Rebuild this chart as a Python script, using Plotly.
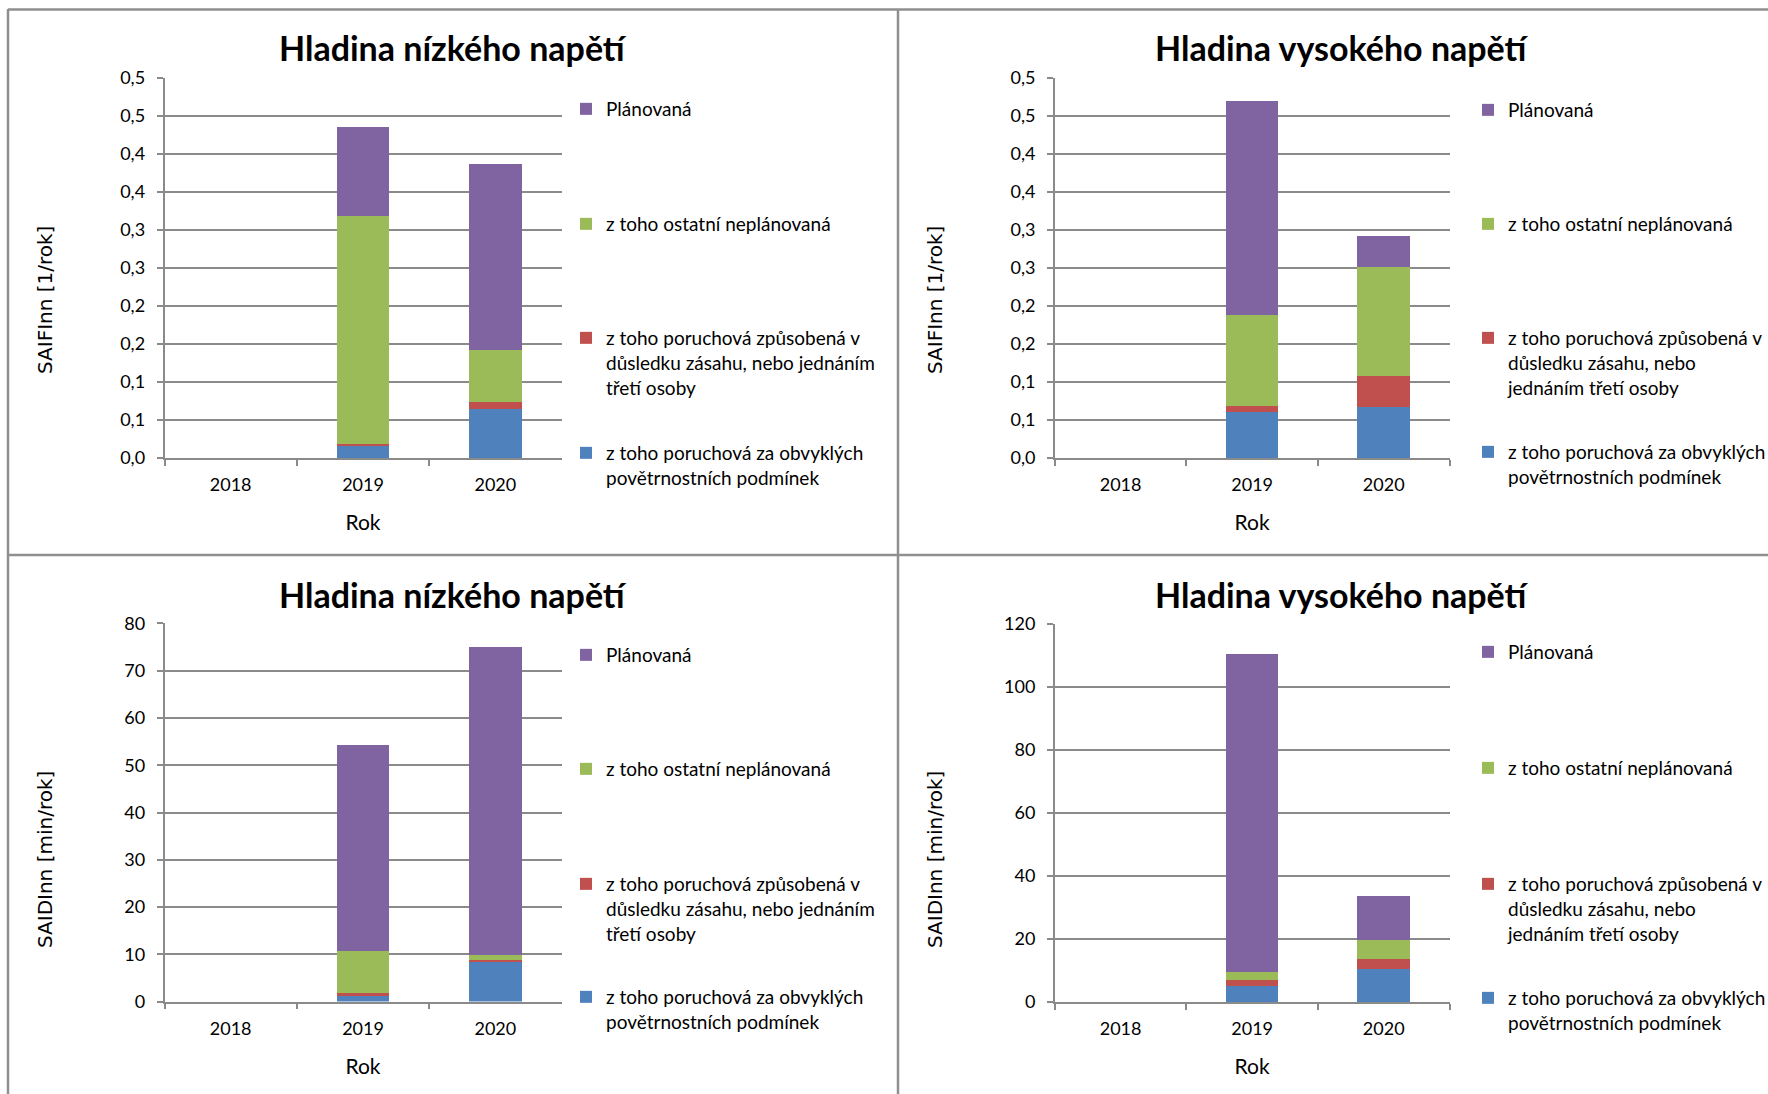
import plotly.graph_objects as go

W, H = 1768, 1094

years = ["2018", "2019", "2020"]

series_names = [
    "z toho poruchová za obvyklých<br>povětrnostních podmínek",
    "z toho poruchová způsobená v<br>důsledku zásahu, nebo jednáním<br>třetí osoby",
    "z toho ostatní neplánovaná",
    "Plánovaná",
]
series_names_right = [
    "z toho poruchová za obvyklých<br>povětrnostních podmínek",
    "z toho poruchová způsobená v<br>důsledku zásahu, nebo<br>jednáním třetí osoby",
    "z toho ostatní neplánovaná",
    "Plánovaná",
]
colors = ["#4F81BD", "#C0504D", "#9BBB59", "#8064A2"]

# SAIFI nn - low voltage
saifi_nn_blue = [None, 0.017, 0.065]
saifi_nn_red = [None, 0.002, 0.009]
saifi_nn_green = [None, 0.299, 0.068]
saifi_nn_purple = [None, 0.118, 0.245]

# SAIFI nn - high voltage
saifi_vn_blue = [None, 0.060, 0.067]
saifi_vn_red = [None, 0.008, 0.041]
saifi_vn_green = [None, 0.120, 0.143]
saifi_vn_purple = [None, 0.282, 0.041]

# SAIDI nn - low voltage
saidi_nn_blue = [None, 1.25, 8.4]
saidi_nn_red = [None, 0.65, 0.45]
saidi_nn_green = [None, 8.85, 1.1]
saidi_nn_purple = [None, 43.6, 65.0]

# SAIDI nn - high voltage
saidi_vn_blue = [None, 5.0, 10.5]
saidi_vn_red = [None, 2.1, 3.0]
saidi_vn_green = [None, 2.55, 6.1]
saidi_vn_purple = [None, 100.7, 14.2]

saifi_tickvals = [0, 0.05, 0.1, 0.15, 0.2, 0.25, 0.3, 0.35, 0.4, 0.45, 0.5]
saifi_ticktext = ["0,0", "0,1", "0,1", "0,2", "0,2", "0,3", "0,3", "0,4", "0,4", "0,5", "0,5"]

titles = ["Hladina nízkého napětí", "Hladina vysokého napětí",
          "Hladina nízkého napětí", "Hladina vysokého napětí"]
ytitles = ["SAIFInn [1/rok]", "SAIFInn [1/rok]", "SAIDInn [min/rok]", "SAIDInn [min/rok]"]
xtitle = "Rok"

panels = [
    dict(data=[saifi_nn_blue, saifi_nn_red, saifi_nn_green, saifi_nn_purple], names=series_names),
    dict(data=[saifi_vn_blue, saifi_vn_red, saifi_vn_green, saifi_vn_purple], names=series_names_right),
    dict(data=[saidi_nn_blue, saidi_nn_red, saidi_nn_green, saidi_nn_purple], names=series_names),
    dict(data=[saidi_vn_blue, saidi_vn_red, saidi_vn_green, saidi_vn_purple], names=series_names_right),
]

# layout geometry in pixels
plot_boxes = [  # x0, x1, ytop, ybottom
    (164.5, 561.5, 78, 458),
    (1054.8, 1449.5, 78, 458),
    (164.5, 561.5, 623.4, 1001.6),
    (1054.8, 1449.5, 624.1, 1002),
]
title_pos = [(453, 48), (1342, 48), (453, 594), (1342, 594)]
ytitle_pos = [(45, 300), (935, 300), (45, 860), (935, 860)]
legend_text_x = [607, 1509, 607, 1509]
legend_line_y = [
    [453, 338, 224, 109],
    [452, 338, 224, 110],
    [997, 884, 769, 655],
    [998, 884, 768, 652],
]

px = lambda x: x / W
py = lambda y: 1 - y / H

GRID = "#8A8A8A"
FONT = "Lato"

fig = go.Figure()
layout = dict(
    width=W, height=H, autosize=False,
    margin=dict(l=0, r=0, t=0, b=0, pad=0, autoexpand=False),
    paper_bgcolor="white", plot_bgcolor="white",
    barmode="stack", bargap=0.6,
    showlegend=True,
    font=dict(family=FONT, size=18, color="#000000"),
)
annotations = []
legend_idx = 0
for i, p in enumerate(panels):
    ax = "" if i == 0 else str(i + 1)
    x0, x1, yt, yb = plot_boxes[i]
    for s in range(4):
        legend_idx += 1
        lname = "legend" if legend_idx == 1 else f"legend{legend_idx}"
        fig.add_trace(go.Bar(
            x=years, y=p["data"][s], name=p["names"][s],
            marker=dict(color=colors[s], line=dict(width=0)),
            xaxis="x" + ax, yaxis="y" + ax, legend=lname,
            hoverinfo="x+y+name",
        ))
        layout[lname] = dict(
            x=px(legend_text_x[i] - 41), xanchor="left",
            y=py(legend_line_y[i][s] - 19), yanchor="top",
            bgcolor="rgba(0,0,0,0)", borderwidth=0,
            font=dict(family=FONT, size=19, color="#000000"),
            valign="top", itemclick=False, itemdoubleclick=False,
        )
    layout["xaxis" + ax] = dict(
        domain=[px(x0), px(x1)], anchor="y" + ax, type="category",
        range=[-0.5, 2.5], showline=True, linecolor=GRID, linewidth=1.5,
        ticks="outside", tickson="boundaries", ticklen=6, tickcolor=GRID, tickwidth=1.5,
        showgrid=False, zeroline=False, automargin=False,
        tickfont=dict(family=FONT, size=18, color="#000000"),
        ticklabelstandoff=10,
        title=dict(text=xtitle, font=dict(family=FONT, size=21, color="#000000"), standoff=21),
        fixedrange=True,
    )
    yax = dict(
        domain=[py(yb), py(yt)], anchor="x" + ax,
        showline=True, linecolor=GRID, linewidth=1.5,
        ticks="outside", ticklen=6, tickcolor=GRID, tickwidth=1.5,
        showgrid=True, gridcolor=GRID, gridwidth=1.5, zeroline=False, automargin=False,
        tickfont=dict(family=FONT, size=18, color="#000000"),
        ticklabelstandoff=8, fixedrange=True,
    )
    if i < 2:
        yax.update(range=[0, 0.5], tickvals=saifi_tickvals, ticktext=saifi_ticktext)
    elif i == 2:
        yax.update(range=[0, 80], dtick=10, tick0=0)
    else:
        yax.update(range=[0, 120], dtick=20, tick0=0)
    layout["yaxis" + ax] = yax

    annotations.append(dict(
        text=titles[i], x=px(title_pos[i][0]), y=py(title_pos[i][1]),
        xref="paper", yref="paper", showarrow=False, xanchor="center", yanchor="middle",
        font=dict(family=FONT, size=34, color="#000000", weight="bold"),
    ))
    annotations.append(dict(
        text=ytitles[i], x=px(ytitle_pos[i][0]), y=py(ytitle_pos[i][1]),
        xref="paper", yref="paper", showarrow=False, xanchor="center", yanchor="middle",
        textangle=-90,
        font=dict(family="DejaVu Sans", size=20, color="#000000"),
    ))

layout["annotations"] = annotations
BORDER = "#8F8F8F"
layout["shapes"] = [
    dict(type="line", xref="paper", yref="paper", x0=px(8), x1=px(8), y0=py(9), y1=py(H), line=dict(color=BORDER, width=2.5)),
    dict(type="line", xref="paper", yref="paper", x0=px(898), x1=px(898), y0=py(9), y1=py(H), line=dict(color=BORDER, width=2.5)),
    dict(type="line", xref="paper", yref="paper", x0=px(8), x1=px(W), y0=py(9.5), y1=py(9.5), line=dict(color=BORDER, width=2.5)),
    dict(type="line", xref="paper", yref="paper", x0=px(8), x1=px(W), y0=py(555), y1=py(555), line=dict(color=BORDER, width=2.5)),
]
fig.update_layout(**layout)

page_fix = (
    "document.documentElement.style.margin='0';"
    "document.body.style.margin='0';"
    "document.body.style.overflow='hidden';"
    "var gd=document.getElementById('{plot_id}');"
    "gd.style.position='absolute';gd.style.left='0px';gd.style.top='0px';"
)
fig.write_html("out.html", post_script=page_fix, config={"displayModeBar": False})
